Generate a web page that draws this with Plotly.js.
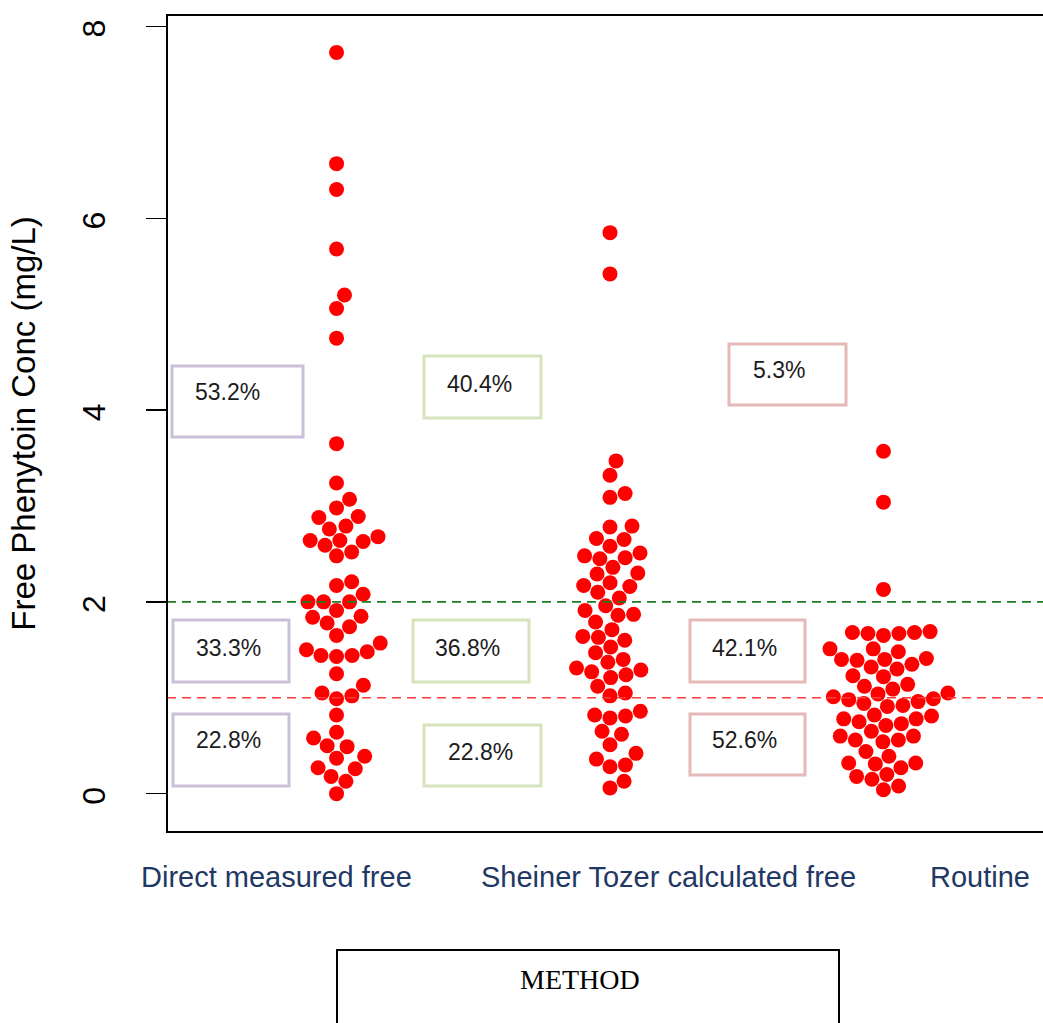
<!DOCTYPE html>
<html>
<head>
<meta charset="utf-8">
<script src="https://cdn.plot.ly/plotly-3.0.1.min.js"></script>
<style>
  html, body { margin: 0; padding: 0; background: #fff; overflow: hidden; }
  #chart { width: 1060px; height: 1023px; }
</style>
</head>
<body>
<div id="chart"></div>
<script>
// Free phenytoin concentration (mg/L) by measurement method
const categories = ["Direct measured free", "Sheiner Tozer calculated free", "Routine"];

const directMeasured = [
  7.73, 6.57, 6.30, 5.68, 5.20, 5.06, 4.75, 3.65, 3.24, 3.07,
  2.98, 2.89, 2.88, 2.79, 2.76, 2.64, 2.64, 2.68, 2.63, 2.59,
  2.48, 2.52, 2.17, 2.21, 2.08, 2.00, 2.00, 2.00, 1.91, 1.84,
  1.78, 1.74, 1.85, 1.65, 1.50, 1.44, 1.43, 1.44, 1.48, 1.57,
  1.25, 1.13, 1.02, 0.99, 1.05, 0.82, 0.64, 0.58, 0.50, 0.49,
  0.39, 0.37, 0.26, 0.18, 0.27, 0.13, 0.00
];

const sheinerTozer = [
  5.85, 5.42, 3.47, 3.32, 3.09, 3.13, 2.79, 2.78, 2.65, 2.66,
  2.58, 2.51, 2.46, 2.45, 2.48, 2.36, 2.30, 2.29, 2.16, 2.20,
  2.17, 2.10, 2.04, 1.96, 1.91, 1.86, 1.87, 1.79, 1.71, 1.64,
  1.60, 1.63, 1.53, 1.47, 1.40, 1.31, 1.27, 1.37, 1.29, 1.21,
  1.24, 1.12, 1.02, 1.05, 0.82, 0.79, 0.81, 0.86, 0.65, 0.62,
  0.51, 0.36, 0.28, 0.30, 0.42, 0.06, 0.13
];

const routine = [
  3.57, 3.04, 2.13, 1.68, 1.67, 1.65, 1.68, 1.67, 1.69, 1.51,
  1.48, 1.51, 1.39, 1.40, 1.32, 1.30, 1.35, 1.40, 1.41, 1.22,
  1.23, 1.14, 1.12, 1.09, 1.04, 1.05, 0.99, 0.98, 0.96, 0.91,
  0.92, 0.94, 1.01, 0.82, 0.78, 0.71, 0.75, 0.78, 0.81, 0.73,
  0.60, 0.56, 0.54, 0.56, 0.60, 0.65, 0.44, 0.39, 0.32, 0.27,
  0.31, 0.32, 0.20, 0.15, 0.04, 0.08, 0.18
];

// share of patients above 2, between 1 and 2, and below 1 mg/L
const pctAbove2  = ["53.2%", "40.4%", "5.3%"];
const pctBetween = ["33.3%", "36.8%", "42.1%"];
const pctBelow1  = ["22.8%", "22.8%", "52.6%"];

const refLines = [2, 1];
const yTicks = [0, 2, 4, 6, 8];
const axisName = "METHOD";
const yTitle = "Free Phenytoin Conc (mg/L)";

// ---- layout geometry ----
const W = 1060, H = 1023;
const M = { l: 167, r: 7, t: 15, b: 191 };
const PW = W - M.l - M.r, PH = H - M.t - M.b;
const xRange = [0.38, 3.62];
const yRange = [-0.4, 8.12];
const pxPerX = PW / (xRange[1] - xRange[0]);
const pxPerY = PH / (yRange[1] - yRange[0]);
const DOT = 15;          // marker diameter in px
const GAP = 15.6;        // centre spacing used by the swarm

// beeswarm: place points in ascending order, each as close to the centre as it fits;
// candidate order is 0, then right-hand positions, then left-hand ones (first minimum wins)
function swarmOffsets(values) {
  const order = values.map((v, i) => i).sort((a, b) => values[a] - values[b]);
  const placed = [];
  const out = new Array(values.length);
  for (const i of order) {
    const y = values[i] * pxPerY;
    const near = placed.filter(p => Math.abs(p.y - y) < GAP);
    const plus = [], minus = [];
    near.forEach(p => {
      const dx = Math.sqrt(GAP * GAP - (p.y - y) * (p.y - y));
      plus.push(p.x + dx);
      minus.push(p.x - dx);
    });
    const cands = [0].concat(plus, minus);
    let best = Infinity;
    cands.forEach(c => {
      const ok = near.every(p => (p.x - c) ** 2 + (p.y - y) ** 2 >= GAP * GAP * 0.999);
      if (ok && Math.abs(c) < Math.abs(best)) best = c;
    });
    placed.push({ x: best, y: y });
    out[i] = best;
  }
  return out.map(px => px / pxPerX);
}

const groups = [directMeasured, sheinerTozer, routine];
const traces = groups.map((vals, k) => {
  const off = swarmOffsets(vals);
  return {
    type: "scatter",
    mode: "markers",
    name: categories[k],
    x: vals.map((v, i) => k + 1 + off[i]),
    y: vals,
    marker: { color: "#ff0000", size: DOT, line: { width: 0 } },
    hoverinfo: "y",
    showlegend: false
  };
});

// pixel helpers for the text boxes drawn on top of the figure
const px2x = px => (px - M.l) / PW;
const px2y = py => (M.t + PH - py) / PH;

const boxColors = ["#cbc0da", "#d6e3bc", "#e5b9b7"];
// [x0, x1, yTop, yBottom, textLeft, textBaseline] per group, per band
const boxGeom = [
  [[172, 303, 366, 437, 193, 400], [173, 289, 620, 682, 194, 656], [173, 289, 714, 786, 194, 748]],
  [[424, 541, 356, 418, 445, 392], [413, 529, 620, 682, 433, 656], [424, 541, 725, 786, 446, 760]],
  [[729, 846, 344, 405, 751, 378], [690, 805, 620, 682, 710, 656], [690, 805, 714, 775, 710, 748]]
];
const bandTexts = [pctAbove2, pctBetween, pctBelow1];

const shapes = [];
const annotations = [];

// reference lines at 2 and 1 mg/L
shapes.push({ type: "line", xref: "paper", yref: "y", x0: 0, x1: 1, y0: refLines[0], y1: refLines[0],
  line: { color: "#1e7b1e", width: 1.6, dash: "9px,6px" } });
shapes.push({ type: "line", xref: "paper", yref: "y", x0: 0, x1: 1, y0: refLines[1], y1: refLines[1],
  line: { color: "#ff3b3b", width: 1.6, dash: "9px,6px" } });

// plot frame
shapes.push({ type: "rect", xref: "paper", yref: "paper", x0: 0, x1: 1, y0: 0, y1: 1,
  line: { color: "#000", width: 2 }, fillcolor: "rgba(0,0,0,0)" });

boxGeom.forEach((g, k) => {
  g.forEach((b, j) => {
    shapes.push({ type: "rect", xref: "paper", yref: "paper",
      x0: px2x(b[0]), x1: px2x(b[1]), y0: px2y(b[3]), y1: px2y(b[2]),
      line: { color: boxColors[k], width: 3 }, fillcolor: "rgba(255,255,255,0)" });
    annotations.push({ xref: "paper", yref: "paper", x: px2x(b[4]), y: px2y(b[5] - 8),
      xanchor: "left", yanchor: "middle", showarrow: false, text: bandTexts[j][k],
      font: { family: "Liberation Sans, Arial, sans-serif", size: 23, color: "#1c1c1c" } });
  });
});

// category names under the swarms
const catCentres = [276, 668, 980];
categories.forEach((c, k) => {
  annotations.push({ xref: "paper", yref: "paper", x: px2x(catCentres[k]), y: px2y(877),
    xanchor: "center", yanchor: "middle", showarrow: false, text: c,
    font: { family: "Liberation Sans, Arial, sans-serif", size: 29, color: "#1f3864" } });
});

// axis name box
shapes.push({ type: "rect", xref: "paper", yref: "paper",
  x0: px2x(337), x1: px2x(839), y0: px2y(1060), y1: px2y(950),
  line: { color: "#000", width: 2 }, fillcolor: "rgba(0,0,0,0)" });
annotations.push({ xref: "paper", yref: "paper", x: px2x(580), y: px2y(979),
  xanchor: "center", yanchor: "middle", showarrow: false, text: axisName,
  font: { family: "Liberation Serif, Times New Roman, serif", size: 28, color: "#000" } });

const layout = {
  width: W, height: H,
  margin: M,
  paper_bgcolor: "#fff", plot_bgcolor: "#fff",
  showlegend: false,
  xaxis: { range: xRange, showgrid: false, zeroline: false, showticklabels: false,
    ticks: "", showline: false },
  yaxis: {
    range: yRange, tickvals: yTicks, ticktext: yTicks.map(String),
    ticks: "outside", ticklen: 20, tickwidth: 1.5, tickcolor: "#000",
    tickangle: -90, ticklabelstandoff: 28, ticklabelshift: 7,
    tickfont: { family: "Liberation Sans, Arial, sans-serif", size: 32, color: "#000" },
    showgrid: false, zeroline: false, showline: false,
    title: { text: yTitle, standoff: 30,
      font: { family: "Liberation Sans, Arial, sans-serif", size: 33, color: "#000" } }
  },
  shapes: shapes,
  annotations: annotations
};

Plotly.newPlot("chart", traces, layout, { displayModeBar: false, staticPlot: true });
</script>
</body>
</html>
